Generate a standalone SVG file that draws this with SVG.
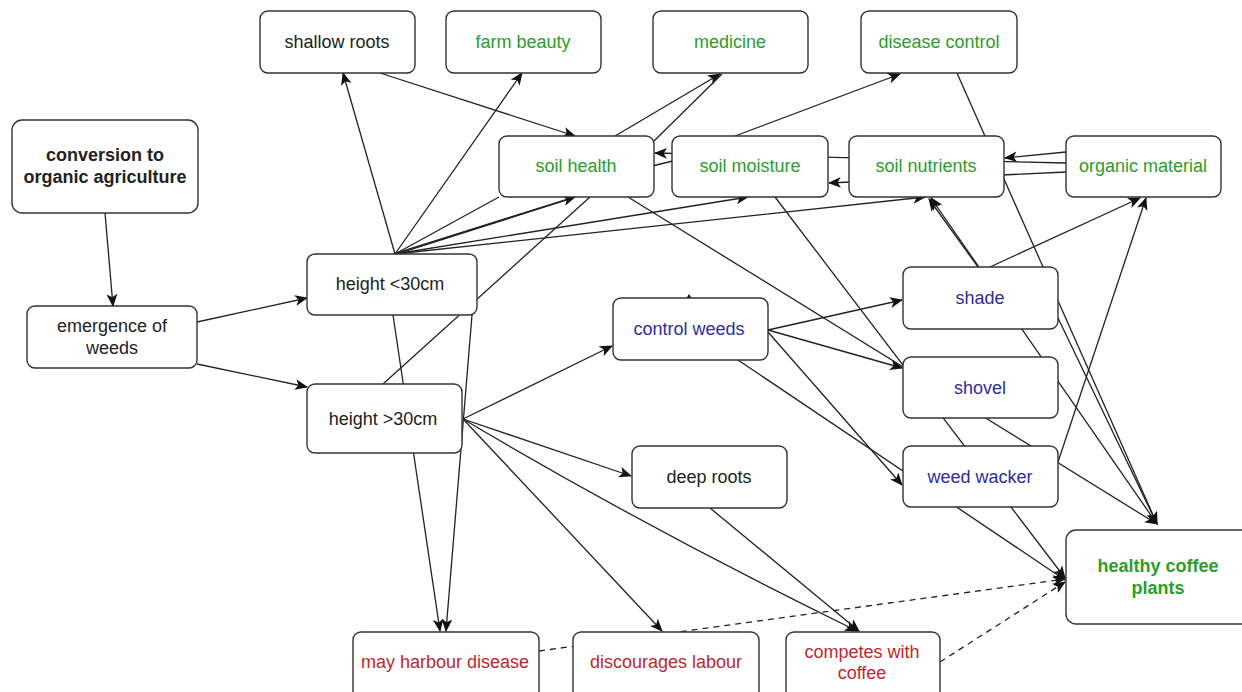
<svg xmlns="http://www.w3.org/2000/svg" width="1242" height="692" viewBox="0 0 1242 692">
<defs>
<style>
.box{fill:#fff;stroke:#333;stroke-width:1.4}
.t{font-family:"Liberation Sans",Arial,sans-serif;font-size:18px;text-anchor:middle}
.k{fill:#222}
.g{fill:#2a9e2a}
.b{fill:#2d2d9e}
.r{fill:#c0272d}
.bold{font-weight:bold}
.e{fill:none;stroke:#222;stroke-width:1.3}
.a{marker-end:url(#arr)}
.d{stroke-dasharray:6 5}
</style>
<marker id="arr" viewBox="0 0 12 10" refX="11" refY="5" markerWidth="13" markerHeight="11" markerUnits="userSpaceOnUse" orient="auto">
<path d="M0,0 L12,5 L0,10 L3,5 z" fill="#111"/>
</marker>
</defs>
<rect width="1242" height="692" fill="#fff"/>
<g id="connectors">
<path class="e a" d="M105,213 L113,306"/>
<path class="e a" d="M197,322 L307,298"/>
<path class="e a" d="M197,364 L307,387"/>
<path class="e a" d="M395,254 L343,73"/>
<path class="e a" d="M395,254 L522,73"/>
<path class="e" d="M395,254 L499,197"/>
<path class="e" d="M393,254 L571,198"/>
<path class="e" d="M397,254 L573,198"/>
<path class="e a" d="M395,254 L575,197"/>
<path class="e a" d="M395,254 L748,197"/>
<path class="e a" d="M395,254 L925,197"/>
<path class="e a" d="M380,73 L575,136"/>
<path class="e a" d="M615,136 L720,74"/>
<path class="e" d="M654,141 L722,74"/>
<path class="e a" d="M735,136 L900,74"/>
<path class="e a" d="M957,73 L1157,524"/>
<path class="e a" d="M1066,163 L655,153"/>
<path class="e a" d="M1066,172 L829,183"/>
<path class="e a" d="M1066,152 L1005,158"/>
<path class="e" d="M620,174 L705,153"/>
<path class="e" d="M383,384 L590,197"/>
<path class="e a" d="M463,419 L612,346"/>
<path class="e a" d="M463,419 L631,476"/>
<path class="e a" d="M463,419 L662,631"/>
<path class="e a" d="M463,419 Q650,530 857,631"/>
<path class="e a" d="M710,508 L859,631"/>
<path class="e a" d="M393,315 L440,631"/>
<path class="e a" d="M472,315 L446,631"/>
<path class="e a" d="M768,330 L902,300"/>
<path class="e a" d="M768,330 L902,368"/>
<path class="e a" d="M768,332 L902,485"/>
<path class="e a" d="M738,360 L1065,580"/>
<path class="e a" d="M628,197 L1157,524"/>
<path class="e a" d="M775,197 L1065,578"/>
<path class="e a" d="M1157,524 L931,198"/>
<path class="e a" d="M978,267 L929,199"/>
<path class="e a" d="M990,267 L1140,198"/>
<path class="e a" d="M1058,462 L1146,198"/>
<path class="e a" d="M1058,318 L1157,524"/>
<path class="e a d" d="M539,651 L1065,579"/>
<path class="e a d" d="M940,662 L1065,582"/>
<path d="M686,299 L689,294 L692,299 z" fill="#111"/>
</g>
<g id="conversion"><rect class="box" x="12" y="120" width="186" height="93" rx="10"/><text class="t k bold" x="105" y="161">conversion to</text><text class="t k bold" x="105" y="183">organic agriculture</text></g>
<g id="emergence"><rect class="box" x="27" y="306" width="170" height="62" rx="8"/><text class="t k" x="112" y="332">emergence of</text><text class="t k" x="112" y="354">weeds</text></g>
<g id="height-lt30"><rect class="box" x="307" y="254" width="170" height="61" rx="8"/><text class="t k" x="390" y="290">height &lt;30cm</text></g>
<g id="height-gt30"><rect class="box" x="307" y="384" width="155" height="69" rx="8"/><text class="t k" x="383" y="425">height &gt;30cm</text></g>
<g id="shallow-roots"><rect class="box" x="260" y="11" width="155" height="62" rx="8"/><text class="t k" x="337" y="48">shallow roots</text></g>
<g id="farm-beauty"><rect class="box" x="446" y="11" width="155" height="62" rx="8"/><text class="t g" x="523" y="48">farm beauty</text></g>
<g id="medicine"><rect class="box" x="653" y="11" width="155" height="62" rx="8"/><text class="t g" x="730" y="48">medicine</text></g>
<g id="disease-control"><rect class="box" x="861" y="11" width="156" height="62" rx="8"/><text class="t g" x="939" y="48">disease control</text></g>
<g id="soil-health"><rect class="box" x="499" y="136" width="155" height="61" rx="8"/><text class="t g" x="576" y="172">soil health</text></g>
<g id="soil-moisture"><rect class="box" x="672" y="136" width="156" height="61" rx="8"/><text class="t g" x="750" y="172">soil moisture</text></g>
<g id="soil-nutrients"><rect class="box" x="849" y="136" width="155" height="61" rx="8"/><text class="t g" x="926" y="172">soil nutrients</text></g>
<g id="organic-material"><rect class="box" x="1066" y="136" width="155" height="61" rx="8"/><text class="t g" x="1143" y="172">organic material</text></g>
<g id="control-weeds"><rect class="box" x="613" y="298" width="155" height="62" rx="8"/><text class="t b" x="689" y="335">control weeds</text></g>
<g id="shade"><rect class="box" x="903" y="267" width="155" height="62" rx="8"/><text class="t b" x="980" y="304">shade</text></g>
<g id="shovel"><rect class="box" x="903" y="357" width="155" height="61" rx="8"/><text class="t b" x="980" y="394">shovel</text></g>
<g id="weed-wacker"><rect class="box" x="903" y="446" width="155" height="61" rx="8"/><text class="t b" x="980" y="483">weed wacker</text></g>
<g id="deep-roots"><rect class="box" x="632" y="446" width="155" height="62" rx="8"/><text class="t k" x="709" y="483">deep roots</text></g>
<g id="healthy-coffee"><rect class="box" x="1066" y="530" width="190" height="94" rx="10"/><text class="t g bold" x="1158" y="572">healthy coffee</text><text class="t g bold" x="1158" y="594">plants</text></g>
<g id="may-harbour"><rect class="box" x="353" y="632" width="186" height="75" rx="8"/><text class="t r" x="445" y="668">may harbour disease</text></g>
<g id="discourages-labour"><rect class="box" x="573" y="632" width="186" height="75" rx="8"/><text class="t r" x="666" y="668">discourages labour</text></g>
<g id="competes"><rect class="box" x="786" y="632" width="154" height="75" rx="8"/><text class="t r" x="862" y="658">competes with</text><text class="t r" x="862" y="679">coffee</text></g>
</svg>
